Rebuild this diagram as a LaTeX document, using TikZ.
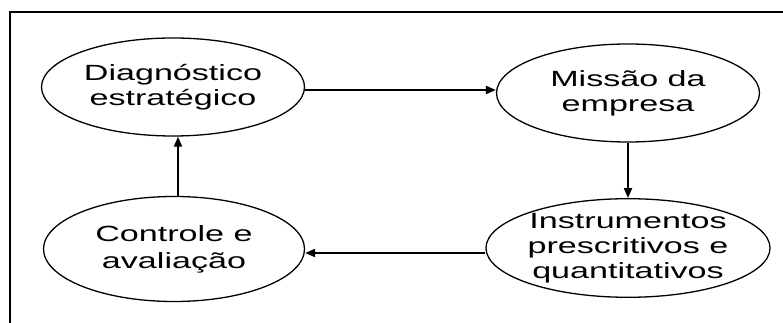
\documentclass[tikz,border=0pt]{standalone}
\usepackage{fontspec}
\newfontfamily\labfont[FakeStretch=1.55]{Liberation Sans}
\usetikzlibrary{shapes.geometric,arrows.meta}
\tikzset{
  stage/.style={draw, ellipse, line width=1.3pt, inner sep=0pt, align=center,
    minimum width=263pt, minimum height=98pt,
    font=\labfont\fontsize{22}{25}\selectfont},
  flow/.style={line width=2pt, -{Triangle[length=10pt,width=8pt]}},
  frame/.style={line width=1.6pt}
}
\begin{document}
\begin{tikzpicture}[x=1pt,y=1pt]
  \useasboundingbox (0,0) rectangle (783,323);
  % open frame: top and left edges
  \coordinate (fbl) at (10,0);
  \coordinate (ftl) at (10,311);
  \coordinate (ftr) at (783,311);
  \draw[frame] (fbl) -- (ftl) -- (ftr);

  % the four stages
  \node[stage] (diag) at (173,236) {Diagnóstico\\estratégico};
  \node[stage] (miss) at (628,230) {Missão da\\empresa};
  \node[stage] (inst) at (628,75) {Instrumentos\\prescritivos e\\quantitativos};
  \node[stage, minimum width=261pt, minimum height=105pt,
        font=\labfont\fontsize{22}{27}\selectfont] (ctrl) at (174,74) {Controle e\\avaliação};

  % connector levels
  \coordinate (rowtop) at (0,233);
  \coordinate (rowbot) at (0,70);
  \coordinate (colleft) at (178,0);

  \draw[flow] (diag.east |- rowtop) -- (miss.west |- rowtop);
  \draw[flow] (miss.south) -- (inst.north);
  \draw[flow] (inst.west |- rowbot) -- (ctrl.east |- rowbot);
  \draw[flow] (ctrl.north -| colleft) -- (diag.south -| colleft);
\end{tikzpicture}
\end{document}
